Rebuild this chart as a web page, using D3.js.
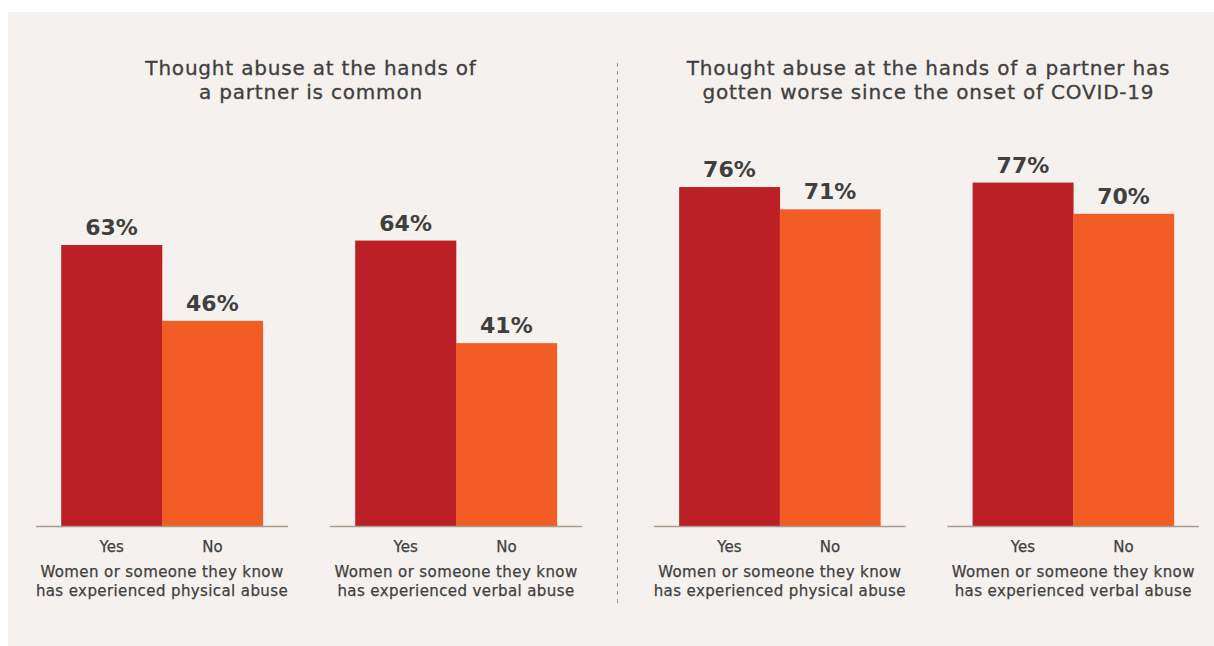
<!DOCTYPE html>
<html>
<head>
<meta charset="utf-8">
<script src="https://cdn.jsdelivr.net/npm/d3@7"></script>
<style>
    html, body { margin: 0; padding: 0; background: #ffffff; }
    svg { display: block; }
    text { font-family: "DejaVu Sans", "Open Sans", sans-serif; fill: #3f3f40; }
    .panel-title { font-size: 20px; letter-spacing: 0.8px; stroke: #3f3f40; stroke-width: 0.3px; }
    .value-label { font-size: 22px; font-weight: 700; }
    .answer-label { font-size: 15px; stroke: #3f3f40; stroke-width: 0.25px; }
    .group-label { font-size: 15px; letter-spacing: 0.4px; stroke: #3f3f40; stroke-width: 0.25px; }
</style>
</head>
<body>
<div id="chart"></div>
<script>
const panelTitles = [
    ['Thought abuse at the hands of', 'a partner is common'],
    ['Thought abuse at the hands of a partner has', 'gotten worse since the onset of COVID-19']
];
const answers = ['Yes', 'No'];
const groupLabels = [
    ['Women or someone they know', 'has experienced physical abuse'],
    ['Women or someone they know', 'has experienced verbal abuse']
];
const yesValues = [[63, 64], [76, 77]];
const noValues = [[46, 41], [71, 70]];

const width = 1214;
const height = 646;
const baselineY = 526;
const colors = { Yes: '#bb2026', No: '#f15d24' };

const svg = d3.select('#chart').append('svg')
    .attr('width', width)
    .attr('height', height);

svg.append('rect')
    .attr('x', 8)
    .attr('y', 12)
    .attr('width', width - 8)
    .attr('height', height - 12)
    .attr('fill', '#f4f1ee');

const yScale = d3.scaleLinear()
    .domain([0, 100])
    .range([baselineY, 80]);

const panelScale = d3.scaleOrdinal()
    .domain([0, 1])
    .range([[36, 582], [654, 1199]]);

svg.append('line')
    .attr('x1', 617.5)
    .attr('x2', 617.5)
    .attr('y1', 63)
    .attr('y2', 607)
    .attr('stroke', '#a89a8f')
    .attr('stroke-width', 1)
    .attr('stroke-dasharray', '4,4');

panelTitles.forEach((titleLines, panelIndex) => {
    const [left, right] = panelScale(panelIndex);
    const panel = svg.append('g');

    // one text per title line so the lines stay separate
    titleLines.forEach((line, lineIndex) => {
        panel.append('text')
            .attr('class', 'panel-title')
            .attr('x', (left + right) / 2 + 2)
            .attr('y', 75 + lineIndex * 23.5)
            .attr('text-anchor', 'middle')
            .text(line);
    });

    const groupScale = d3.scaleBand()
        .domain([0, 1])
        .range([left, right])
        .paddingInner(0.1429);

    groupLabels.forEach((labelLines, groupIndex) => {
        const x0 = groupScale(groupIndex);
        const bandWidth = groupScale.bandwidth();
        const group = panel.append('g');

        const barScale = d3.scaleBand()
            .domain(answers)
            .range([x0, x0 + bandWidth])
            .paddingInner(0)
            .paddingOuter(0.25);

        const bars = answers.map((answer) => ({
            answer,
            value: answer === 'Yes' ? yesValues[panelIndex][groupIndex] : noValues[panelIndex][groupIndex]
        }));

        group.selectAll('.bar')
            .data(bars)
            .enter()
            .append('rect')
            .attr('class', 'bar')
            .attr('x', (datum) => barScale(datum.answer))
            .attr('y', (datum) => yScale(datum.value))
            .attr('width', barScale.bandwidth() + 0.3)
            .attr('height', (datum) => baselineY - yScale(datum.value))
            .attr('fill', (datum) => colors[datum.answer]);

        group.append('line')
            .attr('x1', x0)
            .attr('x2', x0 + bandWidth)
            .attr('y1', baselineY + 0.5)
            .attr('y2', baselineY + 0.5)
            .attr('stroke', '#a89a8f')
            .attr('stroke-width', 1.6);

        group.selectAll('.value-label')
            .data(bars)
            .enter()
            .append('text')
            .attr('class', 'value-label')
            .attr('x', (datum) => barScale(datum.answer) + barScale.bandwidth() / 2)
            .attr('y', (datum) => yScale(datum.value) - 10)
            .attr('text-anchor', 'middle')
            .text((datum) => `${datum.value}%`);

        const axis = group.append('g')
            .attr('transform', `translate(0,${baselineY})`)
            .call(d3.axisBottom(barScale).tickSize(0).tickPadding(0))
            .call((axisGroup) => axisGroup.select('.domain').remove());

        axis.attr('font-family', null).attr('font-size', null);
        axis.selectAll('text')
            .attr('class', 'answer-label')
            .attr('dy', null)
            .attr('y', 26)
            .attr('fill', '#3f3f40');

        labelLines.forEach((line, lineIndex) => {
            group.append('text')
                .attr('class', 'group-label')
                .attr('x', x0 + bandWidth / 2)
                .attr('y', 577 + lineIndex * 19)
                .attr('text-anchor', 'middle')
                .text(line);
        });
    });
});
</script>
</body>
</html>
